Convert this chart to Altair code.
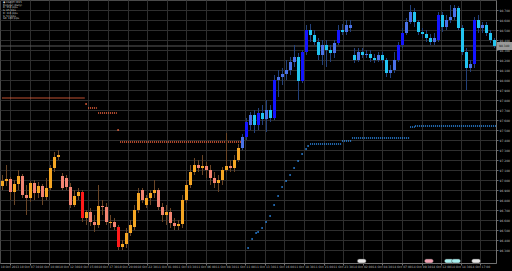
import altair as alt
import pandas as pd

# ---- candle data (USDJPY M15, two bars merged per candle) ----
opens = [96.94, 96.99, 97.01, 96.88, 96.96, 97.04, 96.85, 96.82, 96.97, 96.87,
         96.94, 96.83, 96.92, 97.12, 97.23, 97.04, 97.02, 96.93, 96.75, 96.84,
         96.88, 96.62, 96.68, 96.58, 96.55, 96.74, 96.73, 96.58, 96.58, 96.53,
         96.33, 96.36, 96.47, 96.53, 96.70, 96.90, 96.75, 96.82, 96.87, 96.90,
         96.73, 96.65, 96.68, 96.57, 96.54, 96.56, 96.80, 96.95, 97.08, 97.15,
         97.12, 97.14, 97.10, 97.02, 96.97, 97.00, 97.10, 97.14, 97.12, 97.20,
         97.32, 97.43, 97.55, 97.65, 97.55, 97.67, 97.61, 97.70, 97.62, 98.00,
         98.03, 98.06, 98.10, 98.18, 98.23, 97.99, 98.28, 98.50, 98.45, 98.38,
         98.25, 98.35, 98.30, 98.27, 98.37, 98.50, 98.48, 98.52, 98.25, 98.20,
         98.28, 98.25, 98.26, 98.22, 98.20, 98.25, 98.20, 98.07, 98.10, 98.20,
         98.35, 98.47, 98.58, 98.68, 98.58, 98.48, 98.46, 98.42, 98.38, 98.40,
         98.65, 98.53, 98.60, 98.63, 98.72, 98.52, 98.28, 98.12, 98.16, 98.60,
         98.52, 98.55, 98.47, 98.40]
closes = [96.99, 97.01, 96.88, 96.96, 97.04, 96.85, 96.82, 96.97, 96.87, 96.94,
          96.83, 96.92, 97.12, 97.23, 97.25, 96.92, 96.93, 96.75, 96.84, 96.88,
          96.62, 96.68, 96.58, 96.55, 96.74, 96.73, 96.58, 96.58, 96.53, 96.33,
          96.36, 96.47, 96.55, 96.70, 96.87, 96.80, 96.82, 96.87, 96.90, 96.73,
          96.65, 96.68, 96.57, 96.54, 96.56, 96.80, 96.95, 97.08, 97.15, 97.12,
          97.14, 97.10, 97.02, 96.97, 97.00, 97.10, 97.14, 97.12, 97.20, 97.32,
          97.43, 97.58, 97.65, 97.55, 97.67, 97.61, 97.70, 97.62, 98.00, 98.03,
          98.06, 98.10, 98.18, 98.23, 97.99, 98.28, 98.50, 98.45, 98.38, 98.25,
          98.35, 98.30, 98.27, 98.37, 98.50, 98.48, 98.55, 98.55, 98.20, 98.28,
          98.25, 98.26, 98.22, 98.20, 98.25, 98.20, 98.07, 98.10, 98.20, 98.35,
          98.47, 98.58, 98.68, 98.58, 98.48, 98.46, 98.42, 98.38, 98.42, 98.65,
          98.53, 98.60, 98.63, 98.72, 98.52, 98.28, 98.12, 98.16, 98.60, 98.52,
          98.55, 98.47, 98.40, 98.34]
highs = [97.05, 97.15, 97.03, 97.00, 97.10, 97.06, 96.95, 96.99, 97.00, 96.98,
         96.96, 97.02, 97.15, 97.28, 97.30, 97.07, 97.05, 96.97, 96.90, 96.92,
         96.90, 96.70, 96.72, 96.65, 96.95, 96.80, 96.77, 96.65, 96.62, 96.55,
         96.40, 96.52, 96.60, 96.75, 96.92, 96.92, 96.85, 96.90, 97.00, 96.92,
         96.77, 96.75, 96.72, 96.62, 96.60, 96.85, 97.00, 97.15, 97.22, 97.20,
         97.25, 97.18, 97.15, 97.08, 97.05, 97.13, 97.47, 97.20, 97.25, 97.36,
         97.46, 97.62, 97.68, 97.70, 97.72, 97.75, 97.80, 97.75, 98.05, 98.10,
         98.12, 98.20, 98.23, 98.35, 98.27, 98.30, 98.55, 98.56, 98.50, 98.42,
         98.40, 98.40, 98.35, 98.40, 98.55, 98.56, 98.60, 98.60, 98.32, 98.32,
         98.32, 98.30, 98.30, 98.26, 98.28, 98.28, 98.22, 98.15, 98.28, 98.38,
         98.52, 98.62, 98.75, 98.72, 98.60, 98.52, 98.50, 98.46, 98.47, 98.68,
         98.68, 98.65, 98.75, 98.75, 98.74, 98.55, 98.32, 98.20, 98.63, 98.65,
         98.58, 98.58, 98.50, 98.42]
lows = [96.90, 96.94, 96.80, 96.75, 96.90, 96.82, 96.65, 96.78, 96.80, 96.82,
        96.75, 96.80, 96.90, 97.08, 97.20, 96.90, 96.90, 96.72, 96.73, 96.80,
        96.58, 96.55, 96.54, 96.48, 96.52, 96.65, 96.55, 96.52, 96.50, 96.30,
        96.30, 96.32, 96.44, 96.50, 96.67, 96.77, 96.72, 96.75, 96.82, 96.70,
        96.58, 96.55, 96.52, 96.50, 96.50, 96.52, 96.77, 96.92, 97.05, 97.08,
        97.05, 97.02, 96.95, 96.92, 96.88, 96.95, 97.08, 97.08, 97.08, 97.18,
        97.30, 97.40, 97.50, 97.47, 97.50, 97.55, 97.48, 97.58, 97.60, 97.83,
        97.95, 98.00, 98.05, 98.13, 97.80, 97.97, 98.25, 98.38, 98.35, 98.20,
        98.15, 98.13, 98.18, 98.22, 98.35, 98.45, 98.45, 98.48, 98.17, 98.18,
        98.22, 98.22, 98.18, 98.17, 98.18, 98.17, 98.03, 98.02, 98.07, 98.18,
        98.32, 98.45, 98.56, 98.53, 98.45, 98.42, 98.38, 98.35, 98.35, 98.38,
        98.48, 98.50, 98.57, 98.60, 98.50, 98.25, 97.90, 98.08, 98.12, 98.47,
        98.47, 98.44, 98.37, 98.32]
TREND_SWITCH = 60  # first candle of the blue (up-trend) regime

# ---- stop-dot indicator (runs of constant level, in candle units) ----
red_seg_start = [0.0, 21.4, 23.9, 29.4]
red_seg_end = [20.6, 23.6, 28.6, 59.9]
red_seg_level = [97.82, 97.72, 97.67, 97.38]
red_dot_x = [20.9, 28.9]
red_dot_y = [97.76, 97.50]

blue_dot_x = [61.4, 62.4, 63.4, 63.9, 64.9, 65.9, 66.9, 67.9, 68.9, 69.9,
              70.9, 71.9, 72.9, 73.9, 74.9, 75.9, 76.4]
blue_dot_y = [96.32, 96.41, 96.47, 96.48, 96.52, 96.58, 96.64, 96.75, 96.84,
              96.93, 96.99, 97.05, 97.12, 97.19, 97.26, 97.31, 97.34]
blue_seg_start = [76.9, 84.9, 87.4, 101.9, 103.1]
blue_seg_end = [84.9, 87.4, 101.9, 103.1, 123.4]
blue_seg_level = [97.36, 97.39, 97.42, 97.53, 97.54]

# ---- news event markers ----
event_x = [89.8, 106.6, 111.6, 113.4, 118.4]
event_col = ["#e6e6e6", "#f2a3b3", "#a8f0f0", "#a8f0f0", "#e6e6e6"]

# ---- axes ----
y_ticks = [96.30, 96.40, 96.50, 96.60, 96.70, 96.80, 96.90, 97.00, 97.10,
           97.20, 97.30, 97.40, 97.50, 97.60, 97.70, 97.80, 97.90, 98.00,
           98.10, 98.20, 98.30, 98.40, 98.50, 98.60, 98.70]
x_labels = ["10 Oct 2013", "10 Oct 07:30", "10 Oct 10:00", "10 Oct 12:30",
            "10 Oct 15:00", "10 Oct 17:30", "10 Oct 20:00", "10 Oct 22:30",
            "11 Oct 01:00", "11 Oct 03:30", "11 Oct 06:00", "11 Oct 08:30",
            "11 Oct 11:00", "11 Oct 13:30", "11 Oct 16:00", "11 Oct 18:30",
            "11 Oct 21:00", "11 Oct 23:30", "14 Oct 02:00", "14 Oct 04:30",
            "14 Oct 07:00", "14 Oct 09:30", "14 Oct 12:00", "14 Oct 14:30",
            "14 Oct 17:00"]
legend_lines = ["\u25cf USDJPY,M15", "Regular (daily)", "R:  150 pips",
                "S:  85 pips", "R:  116 pips", "S:  53 pips", "SR:  160 pips"]

N = len(closes)
x_ticks = [1.875 + 4.9 * k for k in range(len(x_labels))]

W, H = 496, 263
x_scale = alt.Scale(domain=[-0.625, N - 0.625], nice=False, zero=False)
y_scale = alt.Scale(domain=[96.17, 98.80], nice=False, zero=False)
GRID = "#2e2e2e"
AX = "#707070"
x_axis = alt.Axis(values=x_ticks, labels=False, grid=True, gridColor=GRID,
                  tickColor=AX, tickSize=2, domainColor=AX, title=None)
y_axis = alt.Axis(values=y_ticks, orient="right", format=".3f", grid=True,
                  gridColor=GRID, tickColor=AX, tickSize=2, domainColor=AX,
                  labelFontSize=3, labelColor="#bcbcbc", labelPadding=1,
                  labelFont="DejaVu Sans", title=None)


def X(field):
    return alt.X(field, type="quantitative", scale=x_scale, axis=x_axis, title=None)


def Y(field):
    return alt.Y(field, type="quantitative", scale=y_scale, axis=y_axis, title=None)


def X2(field):
    return alt.X2(field)


def Y2(field):
    return alt.Y2(field)


def candle_color(i, o, c):
    body = abs(c - o)
    if i >= TREND_SWITCH:
        if c > o and body >= 0.115:
            return "#1414ff"
        return "#4a72e8" if c >= o else "#22c4f0"
    if c < o and body >= 0.195:
        return "#ff1a1a"
    return "#f5a623" if c >= o else "#f28472"


rows = []
for i in range(N):
    o, c = opens[i], closes[i]
    top = max(o, c)
    bot = min(o, c)
    if top - bot < 0.01:
        bot = top - 0.01
    rows.append(dict(i=i, xl=i - 0.375, xr=i + 0.375, h=highs[i], l=lows[i],
                     top=top, bot=bot, col=candle_color(i, o, c),
                     wick="#22407a" if i >= TREND_SWITCH else "#6a4526"))
candles = pd.DataFrame(rows)

wicks = alt.Chart(candles).mark_rule(strokeWidth=1).encode(
    x=X("i"), y=Y("h"), y2=Y2("l"), color=alt.Color("wick:N", scale=None))
bodies = alt.Chart(candles).mark_rect().encode(
    x=X("xl"), x2=X2("xr"), y=Y("top"), y2=Y2("bot"),
    color=alt.Color("col:N", scale=None))

RED = "#ff6a40"
BLUE = "#3094f8"
red_segs = pd.DataFrame(dict(s=red_seg_start, e=red_seg_end, v=red_seg_level))
blue_segs = pd.DataFrame(dict(s=blue_seg_start, e=blue_seg_end, v=blue_seg_level))
red_line = alt.Chart(red_segs).mark_rule(color=RED, strokeWidth=1.6,
                                         strokeDash=[1, 1]).encode(
    x=X("s"), x2=X2("e"), y=Y("v"))
blue_line = alt.Chart(blue_segs).mark_rule(color=BLUE, strokeWidth=1.6,
                                           strokeDash=[1, 1]).encode(
    x=X("s"), x2=X2("e"), y=Y("v"))
red_pts = alt.Chart(pd.DataFrame(dict(x=red_dot_x, y=red_dot_y))).mark_square(
    size=2.5, color=RED, opacity=1).encode(x=X("x"), y=Y("y"))
blue_pts = alt.Chart(pd.DataFrame(dict(x=blue_dot_x, y=blue_dot_y))).mark_square(
    size=2.5, color=BLUE, opacity=1).encode(x=X("x"), y=Y("y"))

last = closes[-1]
bid_df = pd.DataFrame(dict(p=[last], p1=[last + 0.04], p0=[last - 0.04],
                           t=[f"{last:.3f}"]))
bid_line = alt.Chart(bid_df).mark_rule(color="#5a5a5a", strokeWidth=1).encode(
    y=Y("p"), x=alt.value(0), x2=alt.value(W))
bid_box = alt.Chart(bid_df).mark_rect(color="#9a9a9a").encode(
    y=Y("p1"), y2=Y2("p0"), x=alt.value(W + 1), x2=alt.value(W + 16))
bid_text = alt.Chart(bid_df).mark_text(fontSize=3, color="#101010", align="left",
                                       baseline="middle", font="DejaVu Sans").encode(
    y=Y("p"), x=alt.value(W + 3), text="t:N")

ev = pd.DataFrame(dict(x=event_x, col=event_col))
ev["a"] = ev["x"] - 1.1
ev["b"] = ev["x"] + 1.1
events = alt.Chart(ev).mark_rect(cornerRadius=2, stroke="#404040",
                                 strokeWidth=0.5).encode(
    x=X("a"), x2=X2("b"), y=alt.value(H - 4), y2=alt.value(H),
    color=alt.Color("col:N", scale=None))

xl_df = pd.DataFrame(dict(x=x_ticks, t=x_labels))
x_text = alt.Chart(xl_df).mark_text(fontSize=3, color="#bcbcbc",
                                    baseline="middle", font="DejaVu Sans").encode(
    x=X("x"), y=alt.value(H + 4), text="t:N")

legend = alt.Chart(pd.DataFrame(dict(t=["\n".join(legend_lines)]))).mark_text(
    fontSize=2.6, lineHeight=2.7, lineBreak="\n", align="left", baseline="top",
    color="#c8c8c8", font="DejaVu Sans").encode(
    x=alt.value(3), y=alt.value(1), text="t:N")

chart = alt.layer(
    bid_line, red_line, blue_line, red_pts, blue_pts, wicks, bodies, events,
    bid_box, bid_text, x_text, legend
).properties(
    width=W, height=H, background="#000000",
    autosize=alt.AutoSizeParams(type="none"),
    padding={"left": 0, "top": 0, "right": 16, "bottom": 8},
).configure_view(stroke="#4a4a4a", fill="#000000")

chart.save("out.html", embed_options={"renderer": "svg", "actions": False})
